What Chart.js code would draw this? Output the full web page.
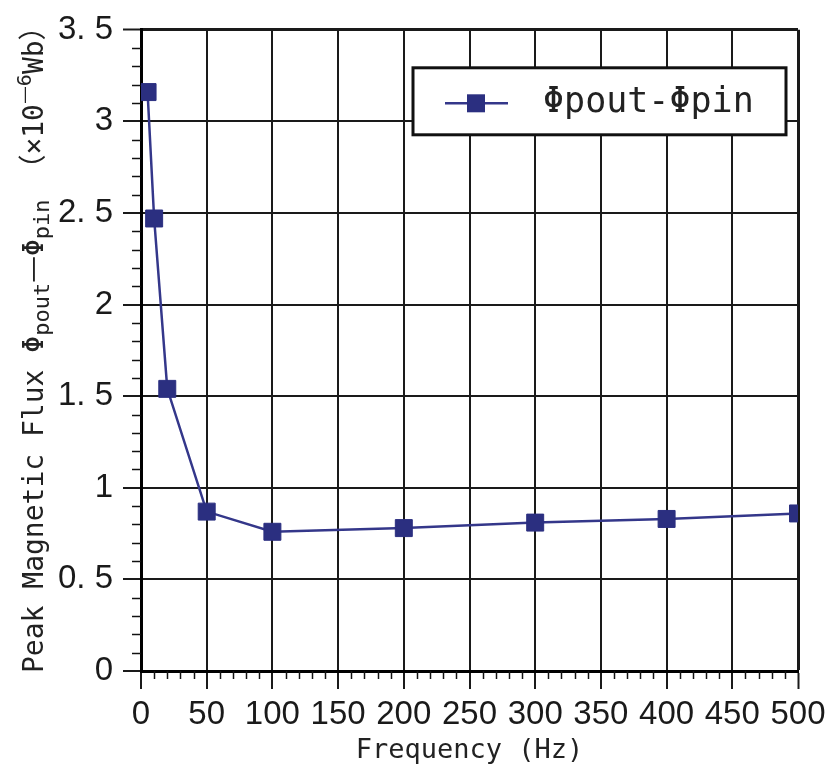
<!DOCTYPE html>
<html>
<head>
<meta charset="utf-8">
<script src="https://cdn.jsdelivr.net/npm/chart.js@4.4.1/dist/chart.umd.min.js"></script>
<style>
  html, body { margin: 0; padding: 0; background: #fff; }
  #wrap { width: 834px; height: 778px; }
</style>
</head>
<body>
<div id="wrap"><canvas id="fluxChart" width="834" height="778"></canvas></div>
<script>
// frequency (Hz) and peak flux difference (x10^-6 Wb)
var freqHz = [5, 10, 20, 50, 100, 200, 300, 400, 500];
var fluxDiff = [3.16, 2.47, 1.54, 0.87, 0.76, 0.78, 0.81, 0.83, 0.86];
var seriesName = "Φpout-Φpin";
var xTitle = "Frequency (Hz)";

var tickFont = "'Liberation Sans Narrow', 'Arial Narrow', 'Liberation Sans', sans-serif";
var monoFont = "'DejaVu Sans Mono', monospace";
var cjkFont = "'Noto Sans CJK JP', 'DejaVu Sans Mono', monospace";
var lineColor = "#34378a";
var markColor = "#2b2f80";

// minor ticks, y title with sub/superscripts, legend box
var extras = {
  id: "extras",
  afterDraw: function (chart) {
    var ctx = chart.ctx;
    var area = chart.chartArea;
    var x = chart.scales.x, y = chart.scales.y;
    ctx.save();
    ctx.strokeStyle = "#111";
    ctx.lineWidth = 1.5;
    for (var i = 1; i < 35; i++) {
      if (i % 5 == 0) continue;
      var py = Math.round(y.getPixelForValue(i / 10)) + 0.5;
      ctx.beginPath();
      ctx.moveTo(area.left - 9, py);
      ctx.lineTo(area.left, py);
      ctx.stroke();
    }
    for (var j = 1; j < 50; j++) {
      if (j % 5 == 0) continue;
      var px = Math.round(x.getPixelForValue(j * 10)) + 0.5;
      ctx.beginPath();
      ctx.moveTo(px, area.bottom);
      ctx.lineTo(px, area.bottom + 8);
      ctx.stroke();
    }

    // y axis title, reads bottom to top
    var parts = [
      { t: "Peak Magnetic Flux ", s: 28, dy: 0 },
      { t: "Φ", s: 28, dy: 0 },
      { t: "pout", s: 22, dy: 6 },
      { t: "—", s: 30, dy: -1, cjk: true },
      { t: "Φ", s: 28, dy: 0 },
      { t: "pin", s: 22, dy: 6 },
      { t: " ", s: 28, dy: 0 },
      { t: "（", s: 28, dy: 0, cjk: true },
      { t: "×10", s: 28, dy: 0 },
      { t: "—", s: 20, dy: -12, cjk: true },
      { t: "6", s: 20, dy: -12 },
      { t: "Wb", s: 28, dy: 0 },
      { t: "）", s: 28, dy: 0, cjk: true }
    ];
    ctx.translate(43, area.bottom + 2);
    ctx.rotate(-Math.PI / 2);
    ctx.fillStyle = "#222";
    ctx.textBaseline = "alphabetic";
    var cx = 0;
    parts.forEach(function (p) {
      ctx.font = p.s + "px " + (p.cjk ? cjkFont : monoFont);
      ctx.fillText(p.t, cx, p.dy);
      cx += ctx.measureText(p.t).width;
    });
    ctx.restore();

    // legend
    var ds = chart.data.datasets[0];
    var bx = area.left + 272, by = area.top + 38, bw = 373, bh = 67;
    ctx.save();
    ctx.fillStyle = "#fff";
    ctx.fillRect(bx, by, bw, bh);
    ctx.strokeStyle = "#111";
    ctx.lineWidth = 3;
    ctx.strokeRect(bx, by, bw, bh);
    var ly = by + bh / 2 + 2;
    ctx.strokeStyle = ds.borderColor;
    ctx.lineWidth = 2.5;
    ctx.beginPath();
    ctx.moveTo(bx + 32, ly);
    ctx.lineTo(bx + 95, ly);
    ctx.stroke();
    ctx.fillStyle = ds.pointBackgroundColor;
    ctx.fillRect(bx + 54, ly - 9, 18, 18);
    ctx.fillStyle = "#222";
    ctx.font = "35px " + monoFont;
    ctx.textBaseline = "middle";
    ctx.fillText(ds.label, bx + 130, ly);
    ctx.restore();
  }
};

new Chart("fluxChart", {
  type: "line",
  data: {
    datasets: [{
      label: seriesName,
      data: freqHz.map(function (f, i) { return { x: f, y: fluxDiff[i] }; }),
      borderColor: lineColor,
      borderWidth: 2.5,
      pointStyle: "rect",
      pointRadius: 12,
      pointBackgroundColor: markColor,
      pointBorderColor: markColor,
      pointBorderWidth: 1,
      tension: 0
    }]
  },
  options: {
    responsive: false,
    animation: false,
    layout: { padding: { top: 25, right: 36, left: 0, bottom: 0 } },
    plugins: {
      legend: { display: false },
      tooltip: { enabled: false }
    },
    scales: {
      x: {
        type: "linear",
        min: 0,
        max: 500,
        afterFit: function (s) { s.height = 107; },
        ticks: {
          stepSize: 50,
          padding: 6,
          color: "#1a1a1a",
          maxRotation: 0,
          font: { family: tickFont, size: 33 }
        },
        grid: {
          color: "#1a1a1a",
          lineWidth: function (c) { return c.tick && c.tick.value == 500 ? 3 : 2; },
          tickLength: 18,
          tickColor: "#1a1a1a",
          tickWidth: 2
        },
        border: { color: "#000", width: 3 },
        title: {
          display: true,
          text: xTitle,
          color: "#222",
          font: { family: monoFont, size: 27 },
          padding: { top: 0, bottom: 11 }
        }
      },
      y: {
        min: 0,
        max: 3.5,
        afterFit: function (s) { s.width = 141; },
        ticks: {
          stepSize: 0.5,
          padding: 10,
          color: "#1a1a1a",
          font: { family: tickFont, size: 33 },
          callback: function (v) {
            return Number.isInteger(v) ? String(v) : v.toFixed(1).replace(".", ". ");
          }
        },
        grid: {
          color: "#1a1a1a",
          lineWidth: function (c) { return c.tick && c.tick.value == 3.5 ? 3 : 2; },
          tickLength: 18,
          tickColor: "#1a1a1a",
          tickWidth: 2
        },
        border: { color: "#000", width: 3 }
      }
    }
  },
  plugins: [extras]
});
</script>
</body>
</html>
